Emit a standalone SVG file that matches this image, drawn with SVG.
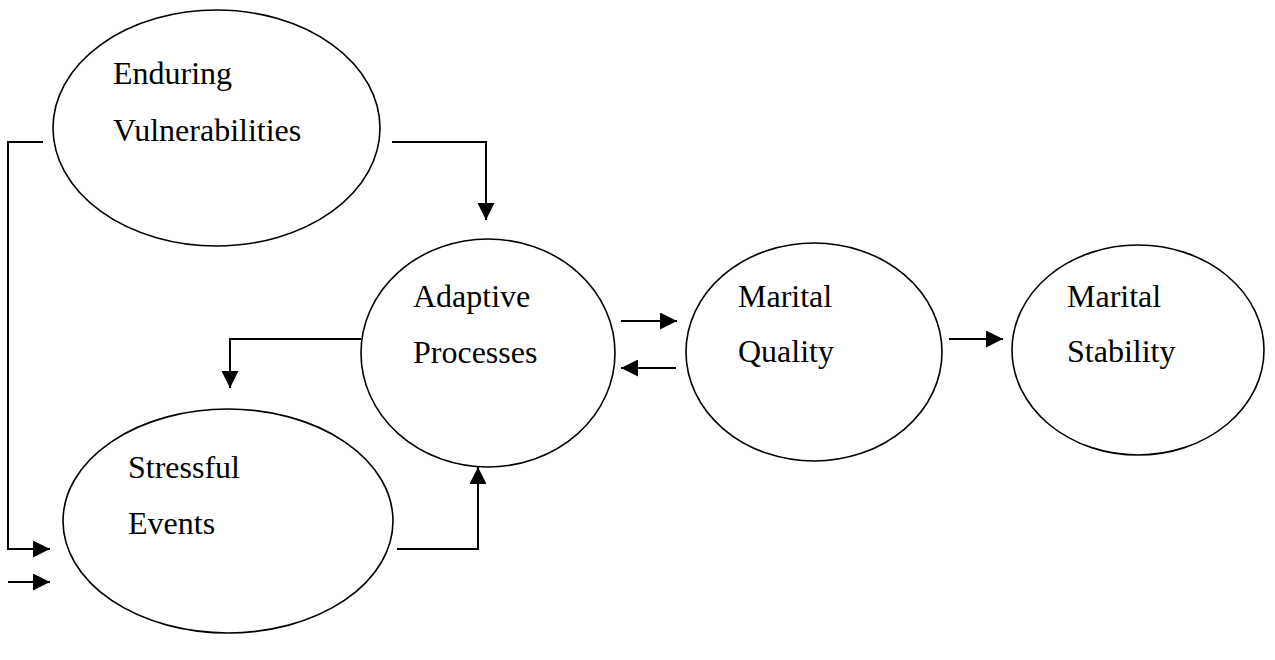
<svg xmlns="http://www.w3.org/2000/svg" width="1275" height="660" viewBox="0 0 1275 660">
<style>
.node ellipse{fill:none;stroke:#000;stroke-width:1.6}
.node text{font-family:"Liberation Serif","Times New Roman",serif;font-size:32px;fill:#000}
.conn path{fill:none;stroke:#000;stroke-width:2}
</style>
<defs>
<marker id="arr" markerUnits="userSpaceOnUse" markerWidth="17" markerHeight="17" viewBox="0 0 16 16" refX="16" refY="8" orient="auto">
<path d="M0,0 L16,8 L0,16 z" fill="#000"/>
</marker>
</defs>
<rect width="1275" height="660" fill="#fff"/>
<g id="enduring" class="node">
<ellipse cx="216.5" cy="128" rx="163.5" ry="118"/>
<text x="113" y="84">Enduring</text>
<text x="113" y="141">Vulnerabilities</text>
</g>
<g id="adaptive" class="node">
<ellipse cx="488" cy="353" rx="127" ry="114"/>
<text x="413" y="307">Adaptive</text>
<text x="413" y="363">Processes</text>
</g>
<g id="quality" class="node">
<ellipse cx="814" cy="352" rx="128" ry="109"/>
<text x="738" y="307">Marital</text>
<text x="738" y="362">Quality</text>
</g>
<g id="stability" class="node">
<ellipse cx="1138" cy="350" rx="126" ry="105"/>
<text x="1067" y="307">Marital</text>
<text x="1067" y="362">Stability</text>
</g>
<g id="stressful" class="node">
<ellipse cx="228" cy="521" rx="165" ry="112"/>
<text x="128" y="478">Stressful</text>
<text x="128" y="534">Events</text>
</g>
<g id="connectors" class="conn">
<path d="M43,142 H8 V549 H50" marker-end="url(#arr)"/>
<path d="M8,582 H50" marker-end="url(#arr)"/>
<path d="M392,142 H486 V220" marker-end="url(#arr)"/>
<path d="M361,339 H230 V388" marker-end="url(#arr)"/>
<path d="M397,549 H478 V467" marker-end="url(#arr)"/>
<path d="M621,321 H677" marker-end="url(#arr)"/>
<path d="M676,368 H621" marker-end="url(#arr)"/>
<path d="M949,339 H1003" marker-end="url(#arr)"/>
</g>
</svg>
